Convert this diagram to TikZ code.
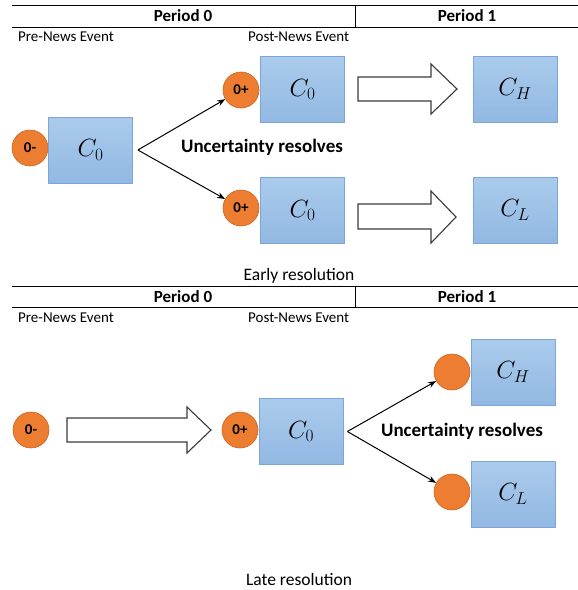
\documentclass[tikz,border=0pt]{standalone}
\usepackage{fontspec}
\setmainfont{Carlito}
\usetikzlibrary{arrows.meta}
\definecolor{orng}{HTML}{ED7D31}
\definecolor{orngb}{HTML}{C9641F}
\definecolor{boxtop}{HTML}{AACBEC}
\definecolor{boxbot}{HTML}{92B8E2}
\definecolor{boxline}{HTML}{7AA6D8}
\definecolor{hollow}{HTML}{3A3A3A}
\begin{document}
\begin{tikzpicture}[x=1pt,y=-1pt,
 cbox/.style={draw=boxline, line width=0.8pt, top color=boxtop, bottom color=boxbot, minimum width=84pt, minimum height=66pt, inner sep=0pt, font=\fontsize{24}{24}\selectfont},
 dot/.style={circle, draw=orngb, fill=orng, line width=0.6pt, minimum size=36pt, inner sep=0pt, font=\fontsize{15}{15}\selectfont\bfseries},
 hdr/.style={font=\fontsize{17}{17}\selectfont\bfseries, inner sep=0pt},
 sub/.style={font=\fontsize{15}{15}\selectfont, inner sep=0pt, anchor=west},
 captext/.style={font=\fontsize{17.5}{17.5}\selectfont, inner sep=0pt},
 unc/.style={font=\fontsize{19}{19}\selectfont\bfseries, inner sep=0pt},
 conn/.style={-{Stealth[length=8pt,width=6pt]}, line width=1pt, black},
 hollowarr/.style={draw=hollow, line width=1.1pt, fill=white, line join=miter},
 hline/.style={line width=0.7pt, black}
]
\useasboundingbox (0,0) rectangle (578,590);

% ---------- top header ----------
\draw[hline] (12,5) -- (578,5);
\draw[hline] (12,27) -- (578,27);
\draw[hline] (355,5) -- (355,27);
\node[hdr] (p0a) at (183,16) {Period 0};
\node[hdr] (p1a) at (467,16) {Period 1};
\node[sub] (prea) at (18,37) {Pre-News Event};
\node[sub] (posta) at (248,37) {Post-News Event};

% ---------- early resolution ----------
\node[dot] (m1) at (30,148) {0-};
\node[cbox] (c1) at (90.5,150) {$C_0$};
\node[dot] (pu1) at (241,90) {0+};
\node[dot] (pd1) at (241,208) {0+};
\node[cbox] (u1) at (302.5,89.5) {$C_0$};
\node[cbox] (d1) at (302.5,210.5) {$C_0$};
\node[cbox] (h1) at (515,89) {$C_H$};
\node[cbox] (l1) at (515,210) {$C_L$};
\node[unc] (ur1) at (262,147) {Uncertainty resolves};
\draw[conn] ([xshift=5pt]c1.east) -- (pu1);
\draw[conn] ([xshift=5pt]c1.east) -- (pd1);
\draw[hollowarr] (358,77) -- (431,77) -- (431,64) -- (457,89) -- (431,114) -- (431,101) -- (358,101) -- cycle;
\draw[hollowarr] (358,204) -- (431,204) -- (431,191) -- (456,217) -- (431,243) -- (431,229) -- (358,229) -- cycle;
\node[captext] (early) at (299,276) {Early resolution};

% ---------- bottom header ----------
\draw[hline] (12,286) -- (578,286);
\draw[hline] (12,307) -- (578,307);
\draw[hline] (355,286) -- (355,307);
\node[hdr] (p0b) at (183,297) {Period 0};
\node[hdr] (p1b) at (467,297) {Period 1};
\node[sub] (preb) at (18,318) {Pre-News Event};
\node[sub] (postb) at (248,318) {Post-News Event};

% ---------- late resolution ----------
\node[dot] (m2) at (31,430) {0-};
\draw[hollowarr] (67,418) -- (187,418) -- (187,407) -- (211,430) -- (187,453) -- (187,442) -- (67,442) -- cycle;
\node[dot] (pb2) at (240,430) {0+};
\node[cbox] (c2) at (301,431.5) {$C_0$};
\node[dot] (hu2) at (452,372) {};
\node[dot] (ld2) at (452,492) {};
\node[cbox] (h2) at (513,372) {$C_H$};
\node[cbox] (l2) at (513,494) {$C_L$};
\node[unc] (ur2) at (462,431) {Uncertainty resolves};
\draw[conn] ([xshift=4pt]c2.east) -- (hu2);
\draw[conn] ([xshift=4pt]c2.east) -- (ld2);
\node[captext] (late) at (299,579) {Late resolution};
\end{tikzpicture}
\end{document}
